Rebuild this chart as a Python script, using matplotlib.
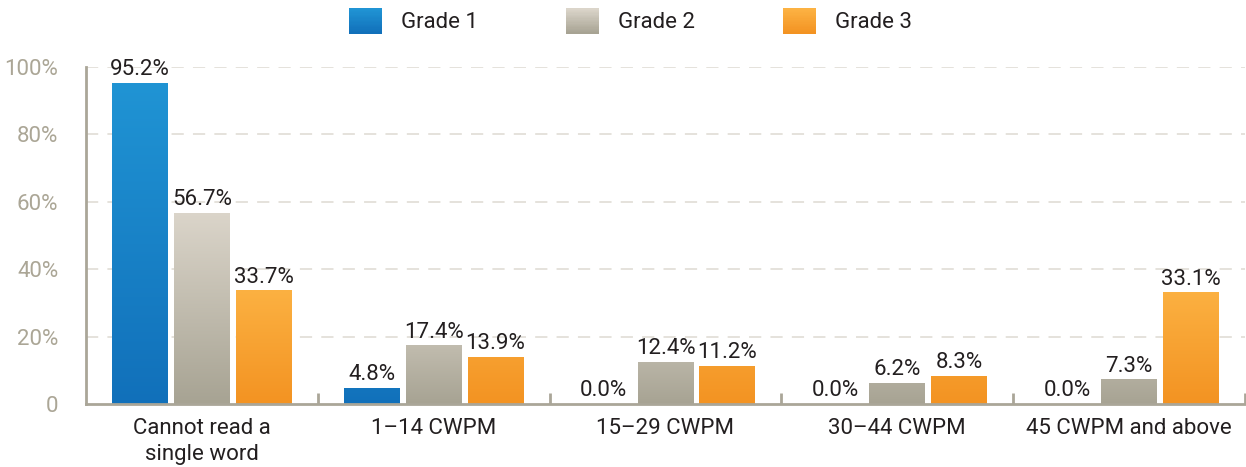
import matplotlib
matplotlib.use("Agg")
import matplotlib.pyplot as plt
import numpy as np
from matplotlib.colors import LinearSegmentedColormap
from matplotlib.patches import Rectangle
from matplotlib.legend_handler import HandlerBase

categories = ["Cannot read a\nsingle word", "1–14 CWPM", "15–29 CWPM", "30–44 CWPM", "45 CWPM and above"]
series_names = ["Grade 1", "Grade 2", "Grade 3"]
grade1 = [95.2, 4.8, 0.0, 0.0, 0.0]
grade2 = [56.7, 17.4, 12.4, 6.2, 7.3]
grade3 = [33.7, 13.9, 11.2, 8.3, 33.1]
yticks = [0, 20, 40, 60, 80, 100]
ytick_labels = ["0", "20%", "40%", "60%", "80%", "100%"]

# (dark bottom, light top)
grads = [("#1170ba", "#2094d4"), ("#a7a393", "#dbd5ca"), ("#f39322", "#fcb243")]

plt.rcParams['font.family'] = ['Roboto', 'DejaVu Sans']
FS = 16
TXT = "#231f20"
AX = "#aaa698"
GRID = "#dedad2"
TICKC = "#aba696"

fig = plt.figure(figsize=(12.46, 4.67), dpi=100)
ax = fig.add_axes([86/1246, (467-404)/467, (1245-86)/1246, 337/467])

x = np.arange(len(categories))
offsets = [-0.267, 0.0, 0.267]
width = 0.241
series = [grade1, grade2, grade3]

for vals, off, (dark, light), name in zip(series, offsets, grads, series_names):
    cont = ax.bar(x + off, vals, width, color=dark, zorder=2, label=name)
    cmap = LinearSegmentedColormap.from_list("g", [dark, light])
    for rect, v in zip(cont.patches, vals):
        if v <= 0:
            continue
        t = min(1.0, v / 35.0)
        grad = np.linspace(0, t, 256).reshape(-1, 1)
        x0 = rect.get_x()
        im = ax.imshow(grad, cmap=cmap, vmin=0, vmax=1, origin="lower",
                       extent=[x0, x0 + rect.get_width(), 0, v],
                       aspect="auto", zorder=2.5, interpolation="bilinear")
        im.set_clip_path(rect)
    ax.bar_label(cont, labels=[f"{v:.1f}%" for v in vals], padding=2,
                 fontsize=FS, color=TXT)

ax.set_xlim(-0.5, len(categories) - 0.5)
ax.set_ylim(0, 100)
ax.set_yticks(yticks)
ax.set_yticklabels(ytick_labels)
ax.set_xticks(x)
ax.set_xticklabels(categories, linespacing=1.35)
ax.set_xticks(np.arange(len(categories)) + 0.5, minor=True)

ax.tick_params(axis="x", which="major", length=0, pad=10, labelsize=FS, labelcolor=TXT)
ax.tick_params(axis="x", which="minor", length=8, width=2, color=AX, direction="in")
ax.tick_params(axis="y", length=0, pad=20, labelsize=FS, labelcolor=TICKC)

for s in ["top", "right"]:
    ax.spines[s].set_visible(False)
for s in ["left", "bottom"]:
    ax.spines[s].set_color(AX)
    ax.spines[s].set_linewidth(2)
    ax.spines[s].set_zorder(4)

ax.set_axisbelow(True)
ax.yaxis.grid(True, color=GRID, linestyle=(0, (8, 6)), linewidth=1.1)
for gl, yv in zip(ax.yaxis.get_gridlines(), yticks):
    if yv == 0:
        gl.set_visible(False)


class GradHandler(HandlerBase):
    def __init__(self, dark, light):
        super().__init__()
        self.dark = dark
        self.light = light

    def create_artists(self, legend, orig_handle, xdescent, ydescent,
                       width, height, fontsize, trans):
        cmap = LinearSegmentedColormap.from_list("g", [self.dark, self.light])
        n = 20
        arts = []
        for i in range(n):
            r = Rectangle((-xdescent, -ydescent + height * i / n), width, height / n + 0.3,
                          facecolor=cmap(i / (n - 1)), edgecolor="none", transform=trans)
            arts.append(r)
        return arts


handles = [Rectangle((0, 0), 1, 1) for _ in series_names]
hmap = {h: GradHandler(d, l) for h, (d, l) in zip(handles, grads)}
leg = fig.legend(handles, series_names, loc="center", bbox_to_anchor=(0.506, 1 - 21/467),
                 ncol=3, frameon=False, fontsize=FS, handlelength=1.45, handleheight=1.36,
                 handletextpad=0.85, columnspacing=4.0, handler_map=hmap)
for t in leg.get_texts():
    t.set_color(TXT)

fig.savefig("out.png", dpi=100)
